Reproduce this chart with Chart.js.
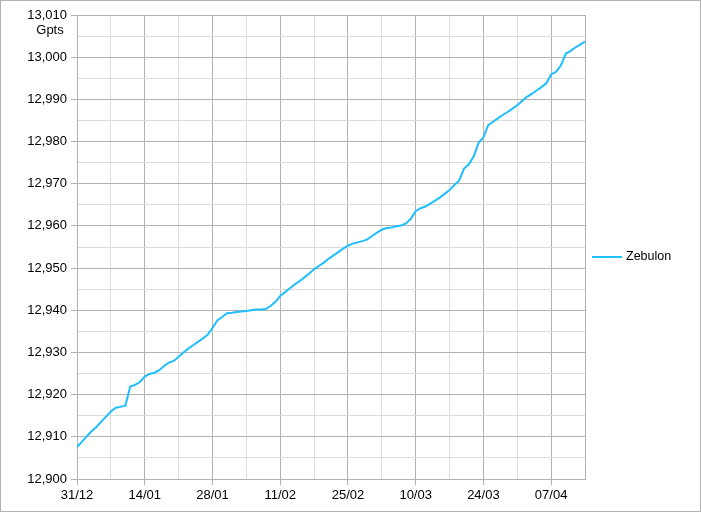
<!DOCTYPE html>
<html><head><meta charset="utf-8">
<script src="https://cdn.jsdelivr.net/npm/chart.js@4"></script>
<style>
html,body{margin:0;padding:0;background:#fff;}
#wrap{position:absolute;left:0;top:0;width:701px;height:512px;box-sizing:border-box;border:1px solid #b3b3b3;}
#wrap canvas{display:block;}
</style></head>
<body><div id="wrap"><canvas id="c" width="699" height="510"></canvas></div>
<script>
const seriesName = 'Zebulon';
const unitLabel = 'Gpts';
const dateLabels = ['31/12','14/01','28/01','11/02','25/02','10/03','24/03','07/04'];
const days = Array.from({length:106},(_,i)=>i);
const values = [
12907.6,12908.8,12910.1,12911.3,12912.3,12913.6,12914.8,12916.0,12916.9,12917.1,
12917.4,12921.9,12922.3,12923.0,12924.3,12924.9,12925.2,12925.8,12926.8,12927.6,
12928.0,12929.0,12930.0,12930.9,12931.7,12932.5,12933.3,12934.2,12935.8,12937.6,
12938.4,12939.3,12939.4,12939.6,12939.7,12939.8,12940.0,12940.2,12940.2,12940.3,
12941.0,12942.0,12943.4,12944.3,12945.2,12946.1,12946.9,12947.8,12948.7,12949.7,
12950.5,12951.3,12952.2,12953.0,12953.8,12954.6,12955.3,12955.8,12956.1,12956.4,
12956.8,12957.6,12958.4,12959.1,12959.5,12959.6,12959.9,12960.1,12960.6,12961.7,
12963.5,12964.2,12964.6,12965.3,12966.0,12966.7,12967.6,12968.5,12969.7,12970.8,
12973.6,12974.6,12976.5,12979.7,12981.0,12983.9,12984.7,12985.5,12986.3,12987.0,
12987.8,12988.6,12989.6,12990.6,12991.3,12992.1,12992.9,12993.8,12995.9,12996.5,
12998.0,13000.8,13001.5,13002.3,13003.0,13003.7
];
const yMin = 12900, yMax = 13010;
const xMax = 105;

const FONT = '"Liberation Sans", Arial, sans-serif';
const MAJOR = '#b3b3b3', MINOR = '#dddddd';
const lineColor = '#1ebeff';

const extras = {
  id:'extras',
  afterDraw(chart){
    const ctx = chart.ctx, ca = chart.chartArea, y = chart.scales.y;
    ctx.save();
    ctx.fillStyle = '#000';
    ctx.font = '13px ' + FONT;
    ctx.textAlign = 'center';
    ctx.textBaseline = 'middle';
    ctx.fillText(unitLabel, 49, y.getPixelForValue(yMax) + 15);
    // legend
    const ds = chart.data.datasets[0];
    const ly = chart.height/2 + 1;
    const lx = ca.right + 7;
    ctx.strokeStyle = ds.borderColor;
    ctx.lineWidth = 2;
    ctx.beginPath(); ctx.moveTo(lx, ly); ctx.lineTo(lx+30, ly); ctx.stroke();
    ctx.textAlign = 'left';
    ctx.font = '12.5px ' + FONT;
    ctx.fillText(ds.label, lx+34, ly);
    ctx.restore();
  }
};

new Chart(document.getElementById('c'), {
  type:'line',
  data:{
    datasets:[{
      label: seriesName,
      data: days.map((d,i)=>({x:d, y:values[i]})),
      borderColor: lineColor,
      backgroundColor: lineColor,
      borderWidth: 2,
      pointRadius: 0,
      tension: 0,
      fill:false
    }]
  },
  options:{
    responsive:false,
    animation:false,
    layout:{padding:{top:14,right:115,bottom:0,left:0}},
    plugins:{legend:{display:false},tooltip:{enabled:false}},
    scales:{
      x:{
        type:'linear', min:0, max:xMax,
        afterFit(s){ s.height = 32; },
        afterBuildTicks(s){ s.ticks = []; for(let v=0; v<=xMax; v+=7) s.ticks.push({value:v}); },
        border:{color:MAJOR},
        grid:{
          color:c=> (c.tick && (c.tick.value%14===0 || c.tick.value===xMax)) ? MAJOR : MINOR,
          tickColor:c=> (c.tick && c.tick.value%14===0) ? MAJOR : 'rgba(0,0,0,0)',
          tickLength:6
        },
        ticks:{
          autoSkip:false, maxRotation:0, padding:3,
          color:'#000', font:{family:FONT,size:13},
          callback:v=> v%14===0 ? (dateLabels[v/14]||'') : ''
        }
      },
      y:{
        min:yMin, max:yMax,
        afterFit(s){ s.width = 76; },
        afterBuildTicks(s){ s.ticks = []; for(let v=yMin; v<=yMax; v+=5) s.ticks.push({value:v}); },
        border:{color:MAJOR},
        grid:{
          color:c=> (c.tick && c.tick.value%10===0) ? MAJOR : MINOR,
          tickColor:c=> (c.tick && c.tick.value%10===0) ? MAJOR : 'rgba(0,0,0,0)',
          tickLength:6
        },
        ticks:{
          autoSkip:false, padding:4,
          color:'#000', font:{family:FONT,size:13},
          callback:v=> v%10===0 ? v.toLocaleString('en-US') : ''
        }
      }
    }
  },
  plugins:[extras]
});
</script></body></html>
